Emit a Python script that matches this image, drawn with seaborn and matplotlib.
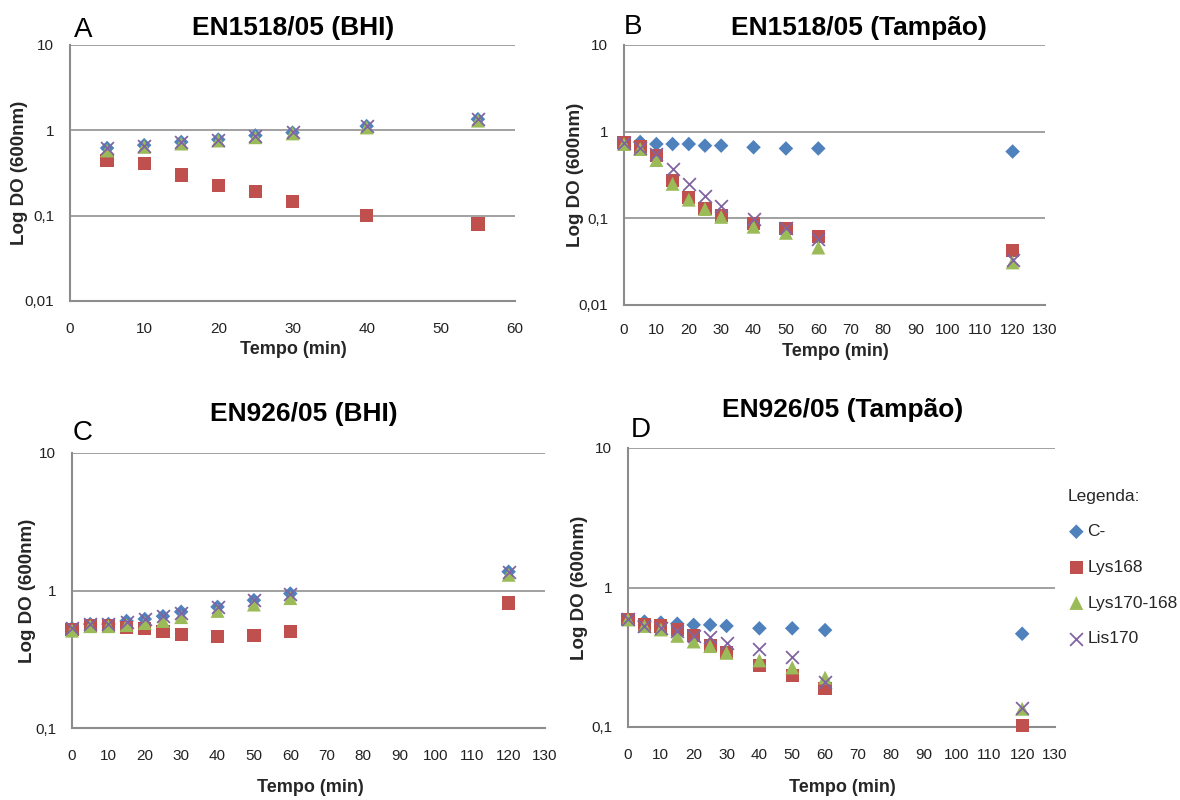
import pandas as pd
import seaborn as sns
import matplotlib.pyplot as plt
from matplotlib.ticker import FuncFormatter, FixedLocator, NullLocator

# sampling times (min)
t_a = [5, 10, 15, 20, 25, 30, 40, 55]
t_bcd = [0, 5, 10, 15, 20, 25, 30, 40, 50, 60, 120]

# A - EN1518/05 (BHI)
a_cneg = [0.62, 0.67, 0.73, 0.78, 0.87, 0.94, 1.12, 1.35]
a_lys168 = [0.44, 0.41, 0.30, 0.225, 0.19, 0.146, 0.10, 0.08]
a_lys170_168 = [0.58, 0.64, 0.70, 0.76, 0.83, 0.92, 1.08, 1.30]
a_lis170 = [0.62, 0.66, 0.73, 0.78, 0.86, 0.95, 1.12, 1.35]

# B - EN1518/05 (Tampao)
b_cneg = [0.74, 0.76, 0.72, 0.72, 0.72, 0.69, 0.69, 0.66, 0.64, 0.64, 0.59]
b_lys168 = [0.75, 0.68, 0.53, 0.275, 0.175, 0.13, 0.108, 0.087, 0.076, 0.062, 0.043]
b_lys170_168 = [0.72, 0.63, 0.47, 0.25, 0.164, 0.128, 0.104, 0.08, 0.068, 0.046, 0.031]
b_lis170 = [0.74, 0.65, 0.55, 0.37, 0.25, 0.18, 0.14, 0.097, 0.078, 0.057, 0.033]

# C - EN926/05 (BHI)
c_cneg = [0.53, 0.57, 0.57, 0.60, 0.62, 0.65, 0.70, 0.76, 0.85, 0.95, 1.37]
c_lys168 = [0.52, 0.56, 0.56, 0.54, 0.53, 0.50, 0.48, 0.46, 0.47, 0.50, 0.81]
c_lys170_168 = [0.51, 0.55, 0.55, 0.56, 0.58, 0.60, 0.64, 0.71, 0.79, 0.88, 1.30]
c_lis170 = [0.53, 0.57, 0.57, 0.59, 0.62, 0.65, 0.69, 0.76, 0.85, 0.94, 1.37]

# D - EN926/05 (Tampao)
d_cneg = [0.59, 0.57, 0.56, 0.55, 0.54, 0.54, 0.53, 0.51, 0.51, 0.495, 0.466]
d_lys168 = [0.59, 0.54, 0.53, 0.50, 0.45, 0.385, 0.34, 0.277, 0.233, 0.189, 0.102]
d_lys170_168 = [0.59, 0.53, 0.50, 0.45, 0.41, 0.38, 0.34, 0.30, 0.267, 0.226, 0.135]
d_lis170 = [0.59, 0.53, 0.51, 0.49, 0.45, 0.44, 0.40, 0.36, 0.32, 0.21, 0.137]

series_names = ["C-", "Lys168", "Lys170-168", "Lis170"]
titles = ["EN1518/05 (BHI)", "EN1518/05 (Tampão)", "EN926/05 (BHI)", "EN926/05 (Tampão)"]
letters = ["A", "B", "C", "D"]

# marker style per series: (marker, colour, size)
styles = {
    "C-": ("D", "#4F81BD", 55),
    "Lys168": ("s", "#C0504D", 90),
    "Lys170-168": ("^", "#9BBB59", 100),
    "Lis170": ("x", "#8064A2", 85),
}

def long_table(times, cols):
    rows = []
    for name, vals in zip(series_names, cols):
        for t, v in zip(times, vals):
            rows.append({"Tempo": t, "DO": v, "serie": name})
    return pd.DataFrame(rows)

panels = [
    long_table(t_a, [a_cneg, a_lys168, a_lys170_168, a_lis170]),
    long_table(t_bcd, [b_cneg, b_lys168, b_lys170_168, b_lis170]),
    long_table(t_bcd, [c_cneg, c_lys168, c_lys170_168, c_lis170]),
    long_table(t_bcd, [d_cneg, d_lys168, d_lys170_168, d_lis170]),
]

sns.set_theme(style="white")
plt.rcParams['font.family'] = ['Liberation Sans Narrow', 'Liberation Sans', 'DejaVu Sans']

W, H = 1180, 800
fig = plt.figure(figsize=(W / 100, H / 100), dpi=100)

def box(l, t, r, b):
    return [l / W, 1 - b / H, (r - l) / W, (b - t) / H]

# pixel boxes (left, top, right, bottom) of each plot area
boxes = [(70, 45, 515, 301), (624, 45, 1045, 305), (72, 453, 545, 728), (628, 448, 1055, 727)]
xmax = [60, 130, 130, 130]
ylims = [(0.01, 10), (0.01, 10), (0.1, 10), (0.1, 10)]

# text positions in pixels
title_pos = [(293, 28), (859, 28), (304, 414), (843, 410)]
letter_pos = [(83, 30), (633, 27), (83, 433), (641, 430)]
ylab_x = [20, 576, 28, 580]
xlab_pos = [(293, 350), (835, 352), (310, 787), (842, 787)]
xtick_pad = [10, 8, 10, 10]

grey = "#8C8C8C"

def fmt(v, _):
    return ("%g" % v).replace(".", ",")

axes = []
for i, df in enumerate(panels):
    ax = fig.add_axes(box(*boxes[i]))
    axes.append(ax)
    ax.set_yscale("log")
    for name in series_names:
        m, c, s = styles[name]
        sub = df[df["serie"] == name]
        if m == "x":
            sns.scatterplot(data=sub, x="Tempo", y="DO", marker=m, color=c, s=s,
                            linewidth=1.3, ax=ax, clip_on=False, zorder=3, label=name)
        else:
            sns.scatterplot(data=sub, x="Tempo", y="DO", marker=m, color=c, s=s,
                            linewidth=0, edgecolor="none", ax=ax, clip_on=False,
                            zorder=3, label=name)
    ax.set_xlim(0, xmax[i])
    ax.set_ylim(*ylims[i])
    ax.xaxis.set_major_locator(FixedLocator(list(range(0, xmax[i] + 1, 10))))
    lo, hi = ylims[i]
    decades = [10.0 ** k for k in range(-2, 2) if lo <= 10.0 ** k <= hi]
    ax.yaxis.set_major_locator(FixedLocator(decades))
    ax.yaxis.set_minor_locator(NullLocator())
    ax.yaxis.set_major_formatter(FuncFormatter(fmt))
    for d in decades[1:]:
        ax.axhline(d, color="#9A9A9A", lw=1.3, zorder=1)
    ax.set_xlabel("")
    ax.set_ylabel("")
    for sp in ["top", "right"]:
        ax.spines[sp].set_visible(False)
    for sp in ["left", "bottom"]:
        ax.spines[sp].set_color(grey)
        ax.spines[sp].set_linewidth(1.5)
    ax.tick_params(axis="both", which="major", direction="out", length=5, width=1.2,
                   color=grey, labelsize=11, labelcolor="#222222")
    ax.tick_params(axis="y", pad=6.5)
    ax.tick_params(axis="x", pad=xtick_pad[i])
    ax.legend().remove()

    fig.text(title_pos[i][0] / W, 1 - title_pos[i][1] / H, titles[i], ha="center", va="center",
             fontsize=19, fontweight="bold", color="black")
    fig.text(letter_pos[i][0] / W, 1 - letter_pos[i][1] / H, letters[i], ha="center", va="center",
             fontsize=20, color="black")
    ycen = (boxes[i][1] + boxes[i][3]) / 2
    fig.text(ylab_x[i] / W, 1 - ycen / H, "Log DO (600nm)", rotation=90, ha="center", va="center",
             fontsize=13.5, fontweight="bold")
    fig.text(xlab_pos[i][0] / W, 1 - xlab_pos[i][1] / H, "Tempo (min)", ha="center", va="center",
             fontsize=13, fontweight="bold")

handles, labels = axes[3].get_legend_handles_labels()
leg = fig.legend(handles, labels, title="Legenda:", loc="upper left",
                 bbox_to_anchor=(1052 / W, 1 - 473 / H), frameon=False, fontsize=12.5,
                 title_fontsize=12.5, labelspacing=1.18, handletextpad=0.15, handlelength=1.0,
                 alignment="left")

plt.savefig("out.png", dpi=100)
